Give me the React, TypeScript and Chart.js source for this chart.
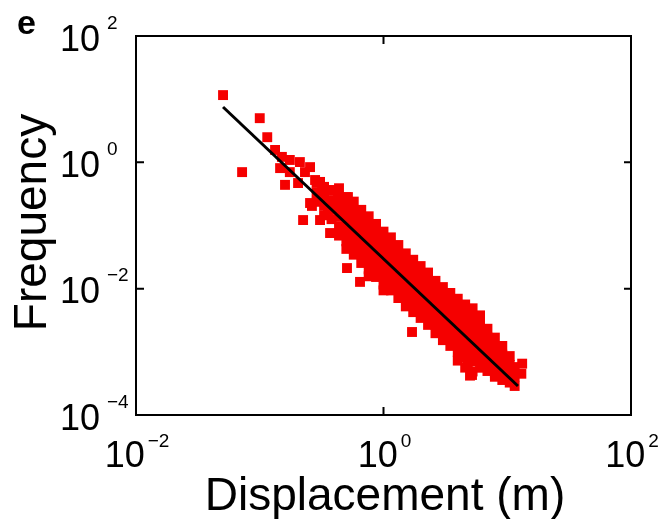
import React, { useEffect, useRef } from 'react';
import { Chart, registerables } from 'chart.js';

Chart.register(...registerables);

// ---- data (Displacement in m, Frequency) ----
const tailPoints: [number, number][] = [
  [0.0505, 11.6], [0.100, 5.0], [0.115, 2.5], [0.072, 0.70], [0.133, 1.57],
  [0.146, 0.81], [0.16, 0.44], [0.151, 1.22], [0.175, 1.09], [0.175, 0.70],
  [0.211, 1.01], [0.232, 0.70], [0.204, 0.47], [0.255, 0.84], [0.280, 0.525],
  [0.307, 0.49], [0.319, 0.339], [0.370, 0.365], [0.255, 0.227], [0.224, 0.122],
  [0.307, 0.122], [0.370, 0.076], [0.264, 0.204], [0.356, 0.176], [0.428, 0.253],
  [0.445, 0.147], [0.516, 0.282], [0.507, 0.0212], [0.646, 0.0128], [1.70, 0.00206],
  [5.19, 0.00043], [5.0, 0.00042], [4.8, 0.00060], [13.2, 0.00065], [13.0, 0.00045],
  [0.288, 0.472], [0.288, 0.334], [0.288, 0.237],
  [0.331, 0.409], [0.331, 0.290], [0.331, 0.205], [0.331, 0.145],
  [0.380, 0.356], [0.380, 0.252], [0.380, 0.178], [0.380, 0.126],
];

const bandPoints: [number, number][] = [
  [0.437, 0.389], [0.437, 0.275], [0.437, 0.195], [0.437, 0.138], [0.437, 0.0977], [0.437, 0.0692],
  [0.501, 0.281], [0.501, 0.204], [0.501, 0.148], [0.501, 0.107], [0.501, 0.0774], [0.501, 0.0561], [0.501, 0.0426],
  [0.575, 0.239], [0.575, 0.173], [0.575, 0.125], [0.575, 0.0908], [0.575, 0.0658], [0.575, 0.0476], [0.575, 0.0345],
  [0.661, 0.177], [0.661, 0.128], [0.661, 0.0927], [0.661, 0.0671], [0.661, 0.0486], [0.661, 0.0352], [0.661, 0.0255],
  [0.759, 0.140], [0.759, 0.101], [0.759, 0.0733], [0.759, 0.0531], [0.759, 0.0385], [0.759, 0.0279], [0.759, 0.0202], [0.759, 0.0157],
  [0.871, 0.106], [0.871, 0.0766], [0.871, 0.0555], [0.871, 0.0402], [0.871, 0.0291], [0.871, 0.0211], [0.871, 0.0153],
  [1.00, 0.0800], [1.00, 0.0579], [1.00, 0.0420], [1.00, 0.0304], [1.00, 0.0220], [1.00, 0.0160], [1.00, 0.0116], [1.00, 0.0094],
  [1.148, 0.0649], [1.148, 0.0470], [1.148, 0.0340], [1.148, 0.0247], [1.148, 0.0179], [1.148, 0.0129], [1.148, 0.00938],
  [1.318, 0.0491], [1.318, 0.0356], [1.318, 0.0258], [1.318, 0.0187], [1.318, 0.0135], [1.318, 0.0098], [1.318, 0.0071],
  [1.514, 0.0362], [1.514, 0.0262], [1.514, 0.0190], [1.514, 0.0138], [1.514, 0.00998], [1.514, 0.00723], [1.514, 0.00524],
  [1.738, 0.0287], [1.738, 0.0208], [1.738, 0.0151], [1.738, 0.0109], [1.738, 0.00791], [1.738, 0.00573], [1.738, 0.00425],
  [1.995, 0.0228], [1.995, 0.0165], [1.995, 0.0119], [1.995, 0.00865], [1.995, 0.00627], [1.995, 0.00454], [1.995, 0.00344],
  [2.291, 0.0180], [2.291, 0.0131], [2.291, 0.00946], [2.291, 0.00685], [2.291, 0.00497], [2.291, 0.00360], [2.291, 0.00267],
  [2.630, 0.0133], [2.630, 0.00966], [2.630, 0.00700], [2.630, 0.00507], [2.630, 0.00367], [2.630, 0.00266], [2.630, 0.00197],
  [3.020, 0.0106], [3.020, 0.00766], [3.020, 0.00555], [3.020, 0.00402], [3.020, 0.00291], [3.020, 0.00211], [3.020, 0.00153],
  [3.467, 0.00855], [3.467, 0.00619], [3.467, 0.00449], [3.467, 0.00325], [3.467, 0.00236], [3.467, 0.00171], [3.467, 0.00124],
  [3.981, 0.00693], [3.981, 0.00502], [3.981, 0.00364], [3.981, 0.00264], [3.981, 0.00191], [3.981, 0.00138], [3.981, 0.00100], [3.981, 0.000726],
  [4.571, 0.00562], [4.571, 0.00407], [4.571, 0.00295], [4.571, 0.00214], [4.571, 0.00155], [4.571, 0.00112], [4.571, 0.000813], [4.571, 0.000562],
  [5.248, 0.00489], [5.248, 0.00354], [5.248, 0.00256], [5.248, 0.00186], [5.248, 0.00135], [5.248, 0.000975], [5.248, 0.000706], [5.248, 0.000489],
  [6.026, 0.00378], [6.026, 0.00274], [6.026, 0.00199], [6.026, 0.00144], [6.026, 0.00104], [6.026, 0.000755], [6.026, 0.000560],
  [6.918, 0.00232], [6.918, 0.00168], [6.918, 0.00122], [6.918, 0.000883], [6.918, 0.000640], [6.918, 0.000497],
  [7.943, 0.00168], [7.943, 0.00122], [7.943, 0.000881], [7.943, 0.000638], [7.943, 0.000462], [7.943, 0.000403],
  [9.120, 0.00124], [9.120, 0.000899], [9.120, 0.000652], [9.120, 0.000472], [9.120, 0.000358],
  [10.47, 0.000857], [10.47, 0.000621], [10.47, 0.000450], [10.47, 0.000326],
  [11.48, 0.000574], [11.48, 0.000406], [11.48, 0.000288],
];

// power-law fit line end points
const fitDisplacement = [0.0505, 12.2];
const fitFrequency = [7.52, 0.000288];

// tick labels (10^exp)
const xTickValues = [0.01, 1, 100];
const xTickExponents = ['\u22122', '0', '2'];
const yTickValues = [100, 1, 0.01, 0.0001];
const yTickExponents = ['2', '0', '\u22122', '\u22124'];

const xTitle = 'Displacement (m)';
const yTitle = 'Frequency';
const panelLabel = 'e';

const FONT = '"Liberation Sans", Arial, Helvetica, sans-serif';

export default function App() {
  const ref = useRef<HTMLCanvasElement>(null);

  useEffect(() => {
    if (!ref.current) return;
    const pts = [...tailPoints, ...bandPoints].map(([x, y]) => ({ x, y }));
    const fit = fitDisplacement.map((x, i) => ({ x, y: fitFrequency[i] }));

    const framePlugin = {
      id: 'matlabFrame',
      afterDraw(chart: any) {
        const { ctx, chartArea: a, scales } = chart;
        const xs = scales.x;
        const ys = scales.y;
        ctx.save();
        ctx.strokeStyle = '#000';
        ctx.lineWidth = 2;
        ctx.strokeRect(a.left, a.top, a.right - a.left, a.bottom - a.top);
        ctx.beginPath();
        yTickValues.forEach((v) => {
          const y = ys.getPixelForValue(v);
          ctx.moveTo(a.left, y); ctx.lineTo(a.left + 8, y);
          ctx.moveTo(a.right, y); ctx.lineTo(a.right - 7, y);
        });
        xTickValues.forEach((v) => {
          const x = xs.getPixelForValue(v);
          ctx.moveTo(x, a.bottom); ctx.lineTo(x, a.bottom - 8);
          ctx.moveTo(x, a.top); ctx.lineTo(x, a.top + 8);
        });
        ctx.stroke();

        ctx.fillStyle = '#000';
        ctx.textBaseline = 'alphabetic';
        const bigFont = `36px ${FONT}`;
        const smallFont = `19px ${FONT}`;

        // y tick labels
        yTickValues.forEach((v, i) => {
          const y = ys.getPixelForValue(v);
          ctx.font = bigFont;
          ctx.textAlign = 'right';
          ctx.fillText('10', a.left - 36, y + 14.5);
          ctx.font = smallFont;
          ctx.textAlign = 'left';
          ctx.fillText(yTickExponents[i], a.left - 29, y - 7.5);
        });

        // x tick labels
        xTickValues.forEach((v, i) => {
          const x = xs.getPixelForValue(v);
          ctx.font = bigFont;
          const w1 = ctx.measureText('10').width;
          ctx.font = smallFont;
          const w2 = ctx.measureText(xTickExponents[i]).width;
          const start = x - (w1 + 3 + w2) / 2 + 1;
          ctx.textAlign = 'left';
          ctx.font = bigFont;
          ctx.fillText('10', start, a.bottom + 52);
          ctx.font = smallFont;
          ctx.fillText(xTickExponents[i], start + w1 + 3, a.bottom + 32);
        });

        // axis titles
        ctx.font = `46px ${FONT}`;
        ctx.textAlign = 'center';
        ctx.fillText(xTitle, (a.left + a.right) / 2 + 1.5, a.bottom + 95);
        ctx.save();
        ctx.translate(46, (a.top + a.bottom) / 2 - 3);
        ctx.rotate(-Math.PI / 2);
        ctx.fillText(yTitle, 0, 0);
        ctx.restore();

        // panel label
        ctx.font = `bold 34px ${FONT}`;
        ctx.textAlign = 'center';
        ctx.fillText(panelLabel, 26.5, 34);
        ctx.restore();
      },
    };

    const chart = new Chart(ref.current, {
      type: 'scatter',
      data: {
        datasets: [
          {
            label: 'fit',
            data: fit,
            showLine: true,
            borderColor: '#000',
            borderWidth: 3,
            pointRadius: 0,
            fill: false,
          },
          {
            label: 'data',
            data: pts,
            pointStyle: 'rect',
            pointRadius: 7,
            backgroundColor: 'rgb(245,0,0)',
            borderWidth: 0,
            borderColor: 'rgb(245,0,0)',
          },
        ],
      },
      options: {
        animation: false,
        responsive: true,
        maintainAspectRatio: false,
        events: [],
        layout: { padding: { top: 36, right: 28, left: 0, bottom: 0 } },
        plugins: { legend: { display: false }, tooltip: { enabled: false }, title: { display: false } },
        scales: {
          x: {
            type: 'logarithmic',
            min: 0.01,
            max: 100,
            grid: { display: false },
            border: { display: false },
            ticks: { display: false },
            afterFit: (s: any) => { s.height = 104; },
          },
          y: {
            type: 'logarithmic',
            min: 0.0001,
            max: 100,
            grid: { display: false },
            border: { display: false },
            ticks: { display: false },
            afterFit: (s: any) => { s.width = 136; },
          },
        },
      },
      plugins: [framePlugin],
    });
    return () => chart.destroy();
  }, []);

  return (
    <div style={{ position: 'fixed', left: 0, top: 0, width: 659, height: 519, background: '#fff' }}>
      <canvas ref={ref} />
    </div>
  );
}
